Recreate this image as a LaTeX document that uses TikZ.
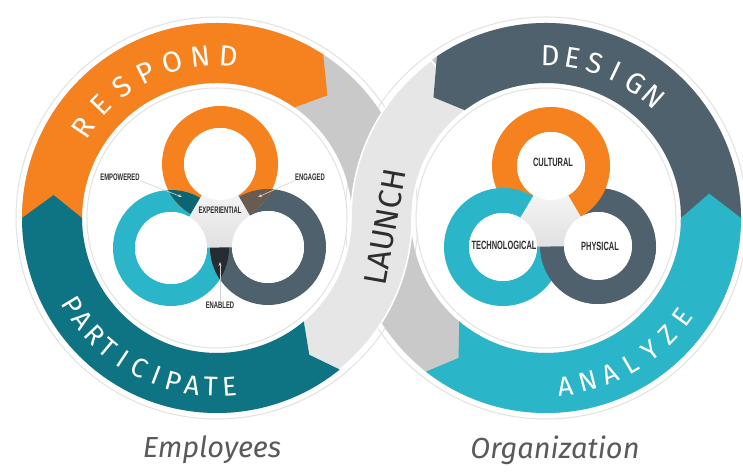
\documentclass[tikz,border=0pt]{standalone}
\usepackage{fontspec}
\usepackage{graphicx}
\setmainfont{Fira Sans}
\newfontfamily\labfont{Liberation Sans}
\usetikzlibrary{calc,arrows.meta}
\definecolor{orng}{HTML}{F5821F}
\definecolor{dteal}{HTML}{0E7383}
\definecolor{lteal}{HTML}{2BB5C8}
\definecolor{slate}{HTML}{4F616C}
\definecolor{bandgray}{HTML}{C9C9C9}
\definecolor{lightband}{HTML}{E6E6E6}
\definecolor{bord}{HTML}{E2E2E2}
\definecolor{lensteal}{HTML}{0B6572}
\definecolor{lensbrown}{HTML}{6A5B50}
\definecolor{lensdark}{HTML}{262C31}
\definecolor{labtext}{HTML}{2E2E2E}
\definecolor{bottomtext}{HTML}{5A5A5A}
\newcommand\condtxt[1]{\scalebox{0.62}[1]{#1}}
\tikzset{
  arclet/.style={text=white, font=\fontsize{29}{29}\selectfont, inner sep=0pt, anchor=center},
  arcletsm/.style={text=white, font=\fontsize{27}{27}\selectfont, inner sep=0pt, anchor=center},
  smalllab/.style={text=labtext, font=\labfont\bfseries\fontsize{9.5}{9.5}\selectfont, inner sep=0pt},
  biglab/.style={text=labtext, font=\labfont\bfseries\fontsize{12}{12}\selectfont, inner sep=0pt},
  pointer/.style={draw=gray!35, line width=0.6pt, -{Stealth[length=4pt,width=3pt]}},
  caption/.style={text=bottomtext, font=\itshape\fontsize{29}{29}\selectfont, inner sep=0pt},
  disc/.style={fill=white, draw=bord, line width=1pt},
}
\begin{document}
\begin{tikzpicture}[x=1pt,y=1pt]
\useasboundingbox (0,0) rectangle (743,473);
\fill[white] (0,0) rectangle (743,473);
\coordinate (CL) at (217,255);
\coordinate (CR) at (546,255);
% outer borders
\draw[bord, line width=1pt] (CL) circle (201);
\draw[bord, line width=1pt] (CR) circle (201);
% gray bands
\fill[bandgray, even odd rule] (CL) circle (195) (CL) circle (135);
\fill[bandgray, even odd rule] (CR) circle (195) (CR) circle (135);
% launch band
\fill[lightband, draw=white, line width=1.5pt]
  ($(CR)+(126:195)$) arc[start angle=126, end angle=180, radius=195]
  arc[start angle=0, end angle=-58, radius=135]
  -- ($(CL)+(-58:195)$) arc[start angle=-58, end angle=0, radius=195]
  arc[start angle=180, end angle=126, radius=135] -- cycle;
% RESPOND band
\fill[orng] ($(CL)+(180:195)$) arc[start angle=180, end angle=57, radius=195]
  -- ($(CL)+(48:165)$) -- ($(CL)+(55:135)$) arc[start angle=55, end angle=180, radius=135] -- cycle;
% PARTICIPATE band
\fill[dteal] ($(CL)+(172:165)$) -- ($(CL)+(180:195)$) arc[start angle=180, end angle=309, radius=195]
  -- ($(CL)+(304:165)$) -- ($(CL)+(310:135)$) arc[start angle=310, end angle=180, radius=135] -- cycle;
% DESIGN band
\fill[slate] ($(CR)+(133:165)$) -- ($(CR)+(124:195)$) arc[start angle=124, end angle=-3, radius=195]
  -- ($(CR)+(-3:135)$) arc[start angle=-3, end angle=127, radius=135] -- cycle;
% ANALYZE band
\fill[lteal] ($(CR)+(8.5:165)$) -- ($(CR)+(0:195)$) arc[start angle=0, end angle=-128, radius=195]
  -- ($(CR)+(-122:165)$) -- ($(CR)+(-130:135)$) arc[start angle=-130, end angle=0, radius=135] -- cycle;
% inner discs
\draw[disc] (CL) circle (130);
\draw[disc] (CR) circle (130);
% arc letters
\foreach \ch [count=\i from 0] in {R,E,S,P,O,N,D} {
  \pgfmathsetmacro\ang{146-10*\i}
  \node[arclet, rotate=\ang-90] (resp\i) at ($(CL)+(\ang:162)$) {\ch};
}
\foreach \ch [count=\i from 0] in {P,A,R,T,I,C,I,P,A,T,E} {
  \pgfmathsetmacro\ang{211+6.32*\i}
  \node[arcletsm, rotate=\ang+90] (part\i) at ($(CL)+(\ang:169)$) {\ch};
}
\foreach \ch [count=\i from 0] in {D,E,S,I,G,N} {
  \pgfmathsetmacro\ang{88.5-8*\i}
  \node[arclet, rotate=\ang-90] (desg\i) at ($(CR)+(\ang:162)$) {\ch};
}
\foreach \ch [count=\i from 0] in {A,N,A,L,Y,Z,E} {
  \pgfmathsetmacro\ang{-83.5+7.9*\i}
  \node[arcletsm, rotate=\ang+90] (anlz\i) at ($(CR)+(\ang:169)$) {\ch};
}
\node[text=labtext, font=\fontsize{32}{32}\selectfont, rotate=80, inner sep=0pt] (launch) at (385,246) {LAUNCH};
% left triple
\coordinate (LO) at (220,309);
\coordinate (LT) at (171,225);
\coordinate (LG) at (268,226);
\fill[lteal, even odd rule] (LT) circle (58) (LT) circle (36);
\fill[slate, even odd rule] (LG) circle (58) (LG) circle (36);
\fill[orng, even odd rule] (LO) circle (58) (LO) circle (36);
\begin{scope} \clip (LO) circle (58); \fill[lensteal] (LT) circle (58); \end{scope}
\begin{scope} \clip (LO) circle (58); \fill[lensbrown] (LG) circle (58); \end{scope}
\begin{scope} \clip (LT) circle (58); \fill[lensdark] (LG) circle (58); \end{scope}
\shade[top color=white, bottom color=black!12] (LO) -- (LT) -- (LG) -- cycle;
\fill[white] (LO) circle (36) (LT) circle (36) (LG) circle (36);
% right triple
\coordinate (RO) at (551,307);
\coordinate (RT) at (503,226);
\coordinate (RG) at (598,227);
\fill[slate, even odd rule] (RG) circle (58) (RG) circle (34);
\fill[orng, even odd rule] (RO) circle (59) (RO) circle (34);
\fill[lteal, even odd rule] (RT) circle (59) (RT) circle (34);
\begin{scope} \clip (440,120) rectangle (700,226.5);
  \fill[slate, even odd rule] (RG) circle (58) (RG) circle (34); \end{scope}
\shade[top color=white, bottom color=black!12] (RO) -- (RT) -- (RG) -- cycle;
\fill[white] (RO) circle (34) (RT) circle (34) (RG) circle (34);
% inner labels
\node[smalllab] (empw) at (120,296) {\condtxt{EMPOWERED}};
\node[smalllab] (enga) at (310,296) {\condtxt{ENGAGED}};
\node[smalllab] (expe) at (220,263) {\condtxt{EXPERIENTIAL}};
\node[smalllab] (enab) at (220,168) {\condtxt{ENABLED}};
\coordinate (empTip) at (182,276);
\coordinate (engTip) at (258,276);
\coordinate (enbTip) at (220,211);
\draw[pointer] (empw.south east) -- (empTip);
\draw[pointer] (enga.south west) -- (engTip);
\draw[pointer] (enab.north) -- (enbTip);
\node[biglab] (cult) at (553,311) {\condtxt{CULTURAL}};
\node[biglab] (tech) at (504,228) {\condtxt{TECHNOLOGICAL}};
\node[biglab] (phys) at (600,227) {\condtxt{PHYSICAL}};
% captions
\node[caption] (emp) at (212,23) {Employees};
\node[caption] (org) at (555,23) {Organization};
\end{tikzpicture}
\end{document}
